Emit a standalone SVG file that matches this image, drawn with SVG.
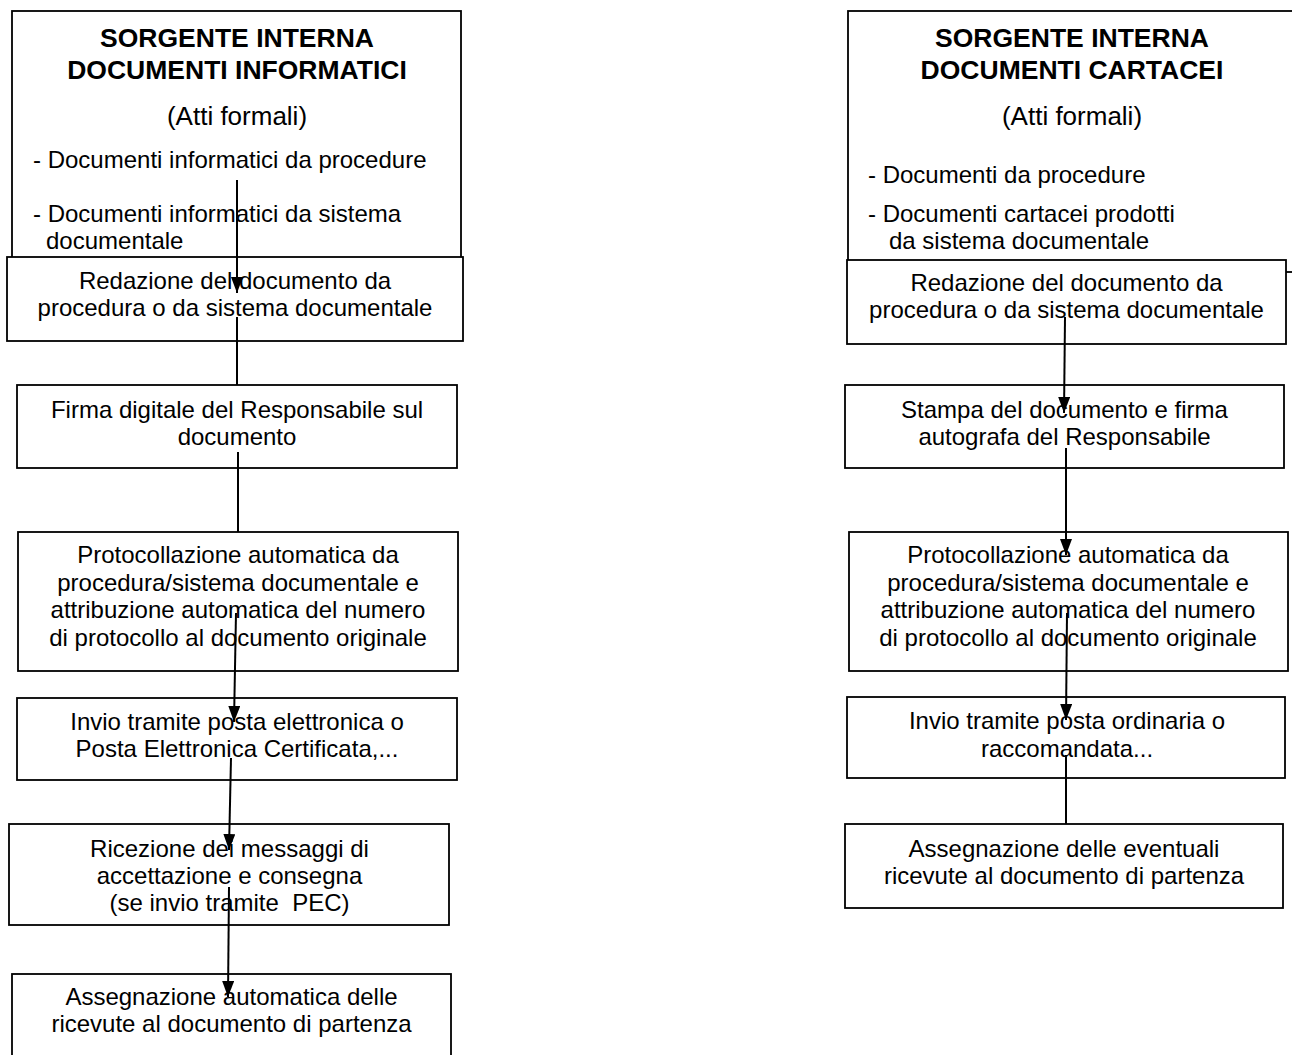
<svg xmlns="http://www.w3.org/2000/svg" width="1292" height="1055" viewBox="0 0 1292 1055">
<style>
.box{fill:#fff;stroke:#000;stroke-width:1.8}
.t{font-family:"Liberation Sans",Arial,sans-serif;font-size:24px;fill:#000}
.c{text-anchor:middle}
.h{font-family:"Liberation Sans",Arial,sans-serif;font-size:26.5px;font-weight:bold;fill:#000;text-anchor:middle}
.s{font-size:26px}
.ln{stroke:#000;stroke-width:2;fill:none}
</style>
<defs>
<marker id="arr" markerUnits="userSpaceOnUse" markerWidth="16" markerHeight="12" refX="16" refY="6" orient="auto">
<path d="M0,0 L16,6 L0,12 z" fill="#000"/>
</marker>
</defs>
<rect width="1292" height="1055" fill="#fff"/>

<g id="src-left">
<rect class="box" x="12" y="11" width="449" height="259"/>
<text class="h" x="237" y="47">SORGENTE INTERNA</text>
<text class="h" x="237" y="79">DOCUMENTI INFORMATICI</text>
<text class="t c s" x="237" y="125">(Atti formali)</text>
<text class="t" x="33" y="168">- Documenti informatici da procedure</text>
<text class="t" x="33" y="222">- Documenti informatici da sistema</text>
<text class="t" x="46" y="249">documentale</text>
</g>

<g id="src-right">
<rect class="box" x="848" y="11" width="470" height="261"/>
<text class="h" x="1072" y="47">SORGENTE INTERNA</text>
<text class="h" x="1072" y="79">DOCUMENTI CARTACEI</text>
<text class="t c s" x="1072" y="125">(Atti formali)</text>
<text class="t" x="868" y="183">- Documenti da procedure</text>
<text class="t" x="868" y="222">- Documenti cartacei prodotti</text>
<text class="t" x="889" y="249">da sistema documentale</text>
</g>

<g id="l-redazione">
<rect class="box" x="7" y="257" width="456" height="84"/>
<text class="t c" x="235" y="289">Redazione del documento da</text>
<text class="t c" x="235" y="316">procedura o da sistema documentale</text>
</g>
<g id="l-firma">
<rect class="box" x="17" y="385" width="440" height="83"/>
<text class="t c" x="237" y="418">Firma digitale del Responsabile sul</text>
<text class="t c" x="237" y="445">documento</text>
</g>
<g id="l-protocollazione">
<rect class="box" x="18" y="532" width="440" height="139"/>
<text class="t c" x="238" y="563">Protocollazione automatica da</text>
<text class="t c" x="238" y="591">procedura/sistema documentale e</text>
<text class="t c" x="238" y="618">attribuzione automatica del numero</text>
<text class="t c" x="238" y="646">di protocollo al documento originale</text>
</g>
<g id="l-invio">
<rect class="box" x="17" y="698" width="440" height="82"/>
<text class="t c" x="237" y="730">Invio tramite posta elettronica o</text>
<text class="t c" x="237" y="757">Posta Elettronica Certificata,...</text>
</g>
<g id="l-ricezione">
<rect class="box" x="9" y="824" width="440" height="101"/>
<text class="t c" x="229.5" y="857">Ricezione dei messaggi di</text>
<text class="t c" x="229.5" y="884">accettazione e consegna</text>
<text class="t c" x="229.5" y="911" xml:space="preserve">(se invio tramite  PEC)</text>
</g>
<g id="l-assegnazione">
<rect class="box" x="12" y="974" width="439" height="100"/>
<text class="t c" x="231.5" y="1005">Assegnazione automatica delle</text>
<text class="t c" x="231.5" y="1032">ricevute al documento di partenza</text>
</g>

<g id="r-redazione">
<rect class="box" x="847" y="260" width="439" height="84"/>
<text class="t c" x="1066.5" y="291">Redazione del documento da</text>
<text class="t c" x="1066.5" y="318">procedura o da sistema documentale</text>
</g>
<g id="r-stampa">
<rect class="box" x="845" y="385" width="439" height="83"/>
<text class="t c" x="1064.5" y="418">Stampa del documento e firma</text>
<text class="t c" x="1064.5" y="445">autografa del Responsabile</text>
</g>
<g id="r-protocollazione">
<rect class="box" x="849" y="532" width="439" height="139"/>
<text class="t c" x="1068" y="563">Protocollazione automatica da</text>
<text class="t c" x="1068" y="591">procedura/sistema documentale e</text>
<text class="t c" x="1068" y="618">attribuzione automatica del numero</text>
<text class="t c" x="1068" y="646">di protocollo al documento originale</text>
</g>
<g id="r-invio">
<rect class="box" x="847" y="697" width="438" height="81"/>
<text class="t c" x="1067" y="729">Invio tramite posta ordinaria o</text>
<text class="t c" x="1067" y="757">raccomandata...</text>
</g>
<g id="r-assegnazione">
<rect class="box" x="845" y="824" width="438" height="84"/>
<text class="t c" x="1064" y="857">Assegnazione delle eventuali</text>
<text class="t c" x="1064" y="884">ricevute al documento di partenza</text>
</g>

<g id="connectors">
<line class="ln" x1="237" y1="180" x2="237" y2="293" marker-end="url(#arr)"/>
<line class="ln" x1="237" y1="317" x2="237" y2="385"/>
<line class="ln" x1="238" y1="452" x2="238" y2="532"/>
<line class="ln" x1="236" y1="613" x2="234" y2="722" marker-end="url(#arr)"/>
<line class="ln" x1="231" y1="758" x2="229" y2="850" marker-end="url(#arr)"/>
<line class="ln" x1="229" y1="887" x2="228" y2="997" marker-end="url(#arr)"/>
<line class="ln" x1="1065" y1="317" x2="1064" y2="413" marker-end="url(#arr)"/>
<line class="ln" x1="1066" y1="448" x2="1066" y2="555" marker-end="url(#arr)"/>
<line class="ln" x1="1067" y1="613" x2="1066" y2="720" marker-end="url(#arr)"/>
<line class="ln" x1="1066" y1="755" x2="1066" y2="824"/>
</g>
</svg>
